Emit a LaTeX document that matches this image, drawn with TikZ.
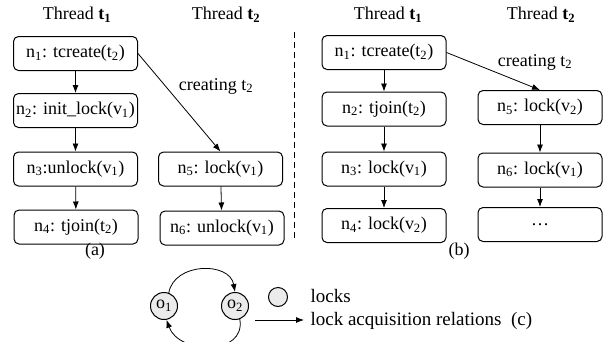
\documentclass[tikz,border=0pt]{standalone}
\usepackage{fontspec}
\setmainfont{Liberation Serif}
\usetikzlibrary{arrows.meta}

\newcommand{\ix}[1]{\textsubscript{#1}}
\newcommand{\thr}[1]{Thread \textbf{t}\textsubscript{\textbf{#1}}}

\begin{document}
\begin{tikzpicture}[x=1pt, y=-1pt,
    every node/.style={font=\fontsize{18}{21}\selectfont},
    stmt/.style={draw, rounded corners=5pt, line width=1pt, minimum width=124pt, minimum height=34pt, inner sep=2pt},
    edge/.style={-{Latex[length=8pt, width=6pt]}, line width=0.8pt},
    lock/.style={draw, circle, fill=black!8, line width=1pt, inner sep=0pt}]
    \useasboundingbox (0,0) rectangle (605,341);

    % (a): init_lock racing with lock
    \node (ta1) at (77,15) {\thr{1}};
    \node (ta2) at (226,15) {\thr{2}};
    \node[stmt] (a1) at (75.5,53.5) {n\ix{1}: tcreate(t\ix{2})};
    \node[stmt] (a2) at (75.5,110.5) {n\ix{2}: init\_lock(v\ix{1})};
    \node[stmt] (a3) at (75.5,169) {n\ix{3}:unlock(v\ix{1})};
    \node[stmt] (a4) at (76,227) {n\ix{4}: tjoin(t\ix{2})};
    \node[stmt] (a5) at (220.5,169) {n\ix{5}: lock(v\ix{1})};
    \node[stmt] (a6) at (222,228) {n\ix{6}: unlock(v\ix{1})};
    \draw[edge] (a1) -- (a2);
    \draw[edge] (a2) -- (a3);
    \draw[edge] (a3) -- (a4);
    \draw[edge] (a5) -- (a6);
    \draw[edge] (a1.east) -- (a5.north);
    \node (ca) at (216,86) {creating t\ix{2}};
    \node (la) at (95,251) {(a)};

    \coordinate (sepa) at (294,32);
    \coordinate (sepb) at (294,238);
    \draw[dashed, dash pattern=on 6pt off 4pt, line width=0.8pt] (sepa) -- (sepb);

    % (b): lock order between the two threads
    \node (tb1) at (388,15) {\thr{1}};
    \node (tb2) at (541,15) {\thr{2}};
    \node[stmt] (b1) at (384,52.5) {n\ix{1}: tcreate(t\ix{2})};
    \node[stmt] (b2) at (384,109) {n\ix{2}: tjoin(t\ix{2})};
    \node[stmt] (b3) at (384,169) {n\ix{3}: lock(v\ix{1})};
    \node[stmt] (b4) at (384,225.5) {n\ix{4}: lock(v\ix{2})};
    \node[stmt] (b5) at (540,107.5) {n\ix{5}: lock(v\ix{2})};
    \node[stmt] (b6) at (540,170) {n\ix{6}: lock(v\ix{1})};
    \node[stmt] (b7) at (540,224.5) {\dots};
    \draw[edge] (b1) -- (b2);
    \draw[edge] (b2) -- (b3);
    \draw[edge] (b3) -- (b4);
    \draw[edge] (b5) -- (b6);
    \draw[edge] (b6) -- (b7);
    \draw[edge] (b1.east) -- (b5.north);
    \node (cb) at (535,62) {creating t\ix{2}};
    \node (lb) at (459,251) {(b)};

    % (c): lock graph and legend
    \node[lock, minimum size=27pt] (o1) at (164,306) {o\ix{1}};
    \node[lock, minimum size=27pt] (o2) at (235,306) {o\ix{2}};
    \draw[edge] (o1.70) to[out=80, in=100, looseness=1.2] (o2.north);
    \draw[edge] (o2.-70) to[out=-80, in=-70, looseness=1.3] (o1.-80);
    \node[lock, minimum size=19pt] (key) at (278,297) {};
    \node[anchor=west, font=\fontsize{19}{22}\selectfont] (keyt) at (307,296) {locks};
    \coordinate (ra) at (255,320);
    \coordinate (rb) at (304,320);
    \draw[edge] (ra) -- (rb);
    \node[anchor=west, font=\fontsize{19}{22}\selectfont] (rt) at (307,321) {lock acquisition relations\enspace(c)};
\end{tikzpicture}
\end{document}
